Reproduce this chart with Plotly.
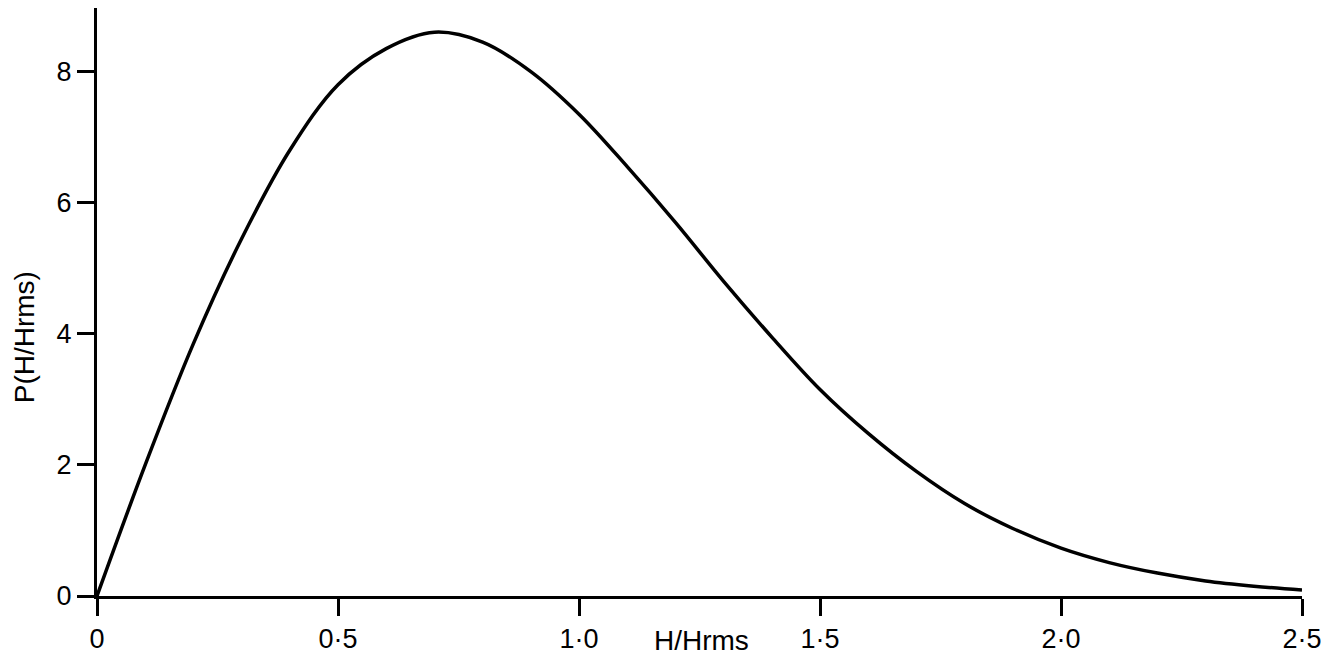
import plotly.graph_objects as go

# Data
h_ratio = [0.0, 0.1, 0.2, 0.3, 0.4, 0.5, 0.6, 0.7, 0.8, 0.9, 1.0, 1.1, 1.2,
           1.3, 1.4, 1.5, 1.6, 1.7, 1.8, 1.9, 2.0, 2.1, 2.2, 2.3, 2.4, 2.5]
p_values = [0.0, 2.0, 3.85, 5.45, 6.8, 7.8, 8.35, 8.6, 8.45, 8.0, 7.35, 6.55, 5.7,
            4.8, 3.95, 3.15, 2.48, 1.9, 1.41, 1.03, 0.73, 0.51, 0.35, 0.23, 0.15, 0.09]

x_tickvals = [0, 0.5, 1.0, 1.5, 2.0, 2.5]
x_ticktext = ["0", "0·5", "1·0", "1·5", "2·0", "2·5"]
y_tickvals = [0, 2, 4, 6, 8]
y_ticktext = ["0", "2", "4", "6", "8"]

x_title = "H/Hrms"
y_title = "P(H/Hrms)"

FONT = "Liberation Sans, Arial, sans-serif"

fig = go.Figure()
fig.add_trace(go.Scatter(
    x=h_ratio, y=p_values, mode="lines",
    line=dict(color="black", width=3.5, shape="spline", smoothing=1.0),
    showlegend=False, hoverinfo="skip",
))

fig.update_layout(
    width=1336, height=662,
    margin=dict(l=97, r=34, t=8, b=64),
    paper_bgcolor="white", plot_bgcolor="white",
    font=dict(family=FONT, color="black", size=27),
    xaxis=dict(
        range=[0, 2.5], showgrid=False, zeroline=False,
        showline=True, linecolor="black", linewidth=3,
        ticks="outside", ticklen=17, tickwidth=3, tickcolor="black",
        tickvals=x_tickvals, ticktext=x_ticktext,
        tickfont=dict(family=FONT, size=27, color="black"),
        fixedrange=True,
    ),
    yaxis=dict(
        range=[0, 8.97], showgrid=False, zeroline=False,
        showline=True, linecolor="black", linewidth=3,
        ticks="outside", ticklen=17, tickwidth=3, tickcolor="black",
        tickvals=y_tickvals, ticktext=y_ticktext,
        tickfont=dict(family=FONT, size=27, color="black"),
        fixedrange=True,
    ),
    annotations=[
        dict(text=x_title, xref="paper", yref="paper", x=0.502, y=-0.076,
             xanchor="center", yanchor="middle", showarrow=False,
             font=dict(family=FONT, size=28, color="black")),
        dict(text=y_title, xref="paper", yref="paper", x=-0.0606, y=0.44,
             xanchor="center", yanchor="middle", showarrow=False, textangle=-90,
             font=dict(family=FONT, size=28, color="black")),
    ],
)

fig.write_html("out.html", config={"displayModeBar": False},
               post_script="document.body.style.margin='0';")
